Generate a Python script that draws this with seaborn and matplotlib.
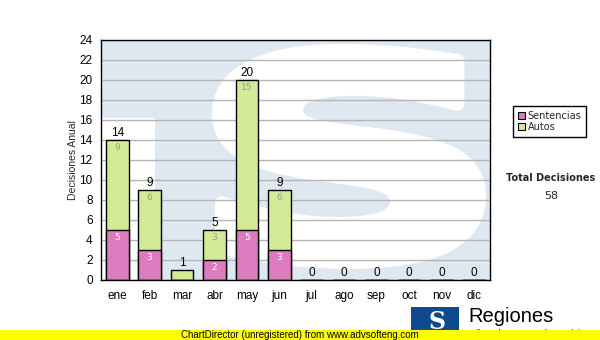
import matplotlib
matplotlib.use("Agg")
import matplotlib.pyplot as plt
import seaborn as sns
import pandas as pd
from matplotlib.patches import Rectangle, PathPatch
from matplotlib.textpath import TextPath
from matplotlib.font_manager import FontProperties
from matplotlib.transforms import Affine2D

months = ["ene", "feb", "mar", "abr", "may", "jun", "jul", "ago", "sep", "oct", "nov", "dic"]
sentencias = [5, 3, 0, 2, 5, 3, 0, 0, 0, 0, 0, 0]
autos = [9, 6, 1, 3, 15, 6, 0, 0, 0, 0, 0, 0]
totals = [s + a for s, a in zip(sentencias, autos)]
y_ticks = list(range(0, 25, 2))
series_names = ["Sentencias", "Autos"]
total_label = "Total Decisiones"
total_value = sum(totals)

PINK = "#dd7bbf"
GREEN = "#d3eb96"
WM = "#dfe8f1"

sns.set_theme(style="white")
plt.rcParams["font.family"] = ["Liberation Sans", "DejaVu Sans"]

W, H = 600, 340
fig = plt.figure(figsize=(6, 3.4), dpi=100)
ax = fig.add_axes([101 / W, 1 - 280 / H, 389 / W, 240 / H])

df = pd.DataFrame({"mes": months, "Sentencias": sentencias, "Autos": autos, "Total": totals})

# watermark (TS logo) in the plot background
ax.add_patch(Rectangle((0, 0), 1, 1, transform=ax.transAxes, facecolor=WM, edgecolor="none", zorder=0.1))
ax.add_patch(Rectangle((0, 0), 0.139, 0.675, transform=ax.transAxes, facecolor="white", edgecolor="none", zorder=0.2))
tp = TextPath((0, 0), "S", prop=FontProperties(family="DejaVu Sans", weight="bold"), size=100)
ext = tp.get_extents()
x0, x1, y0, y1 = 0.303, 0.972, 0.075, 0.955
tr = (Affine2D().translate(-ext.x0, -ext.y0)
      .scale((x1 - x0) / ext.width, (y1 - y0) / ext.height)
      .translate(x0, y0))
ax.add_patch(PathPatch(tr.transform_path(tp), transform=ax.transAxes, facecolor="white",
                       edgecolor="white", linewidth=10, joinstyle="round", zorder=0.3,
                       clip_on=True))

sns.barplot(data=df, x="mes", y="Total", color=GREEN, saturation=1, width=0.7,
            edgecolor="black", linewidth=1, ax=ax, zorder=2)
sns.barplot(data=df, x="mes", y="Sentencias", color=PINK, saturation=1, width=0.7,
            edgecolor="black", linewidth=1, ax=ax, zorder=2)

ax.set_xlim(-0.5, 11.5)
ax.set_ylim(0, 24)
ax.set_yticks(y_ticks)
ax.set_xticks(range(len(months)))
ax.set_xticklabels(months)
ax.yaxis.grid(True, color="#b5b5b5", linewidth=1, zorder=0.5)
ax.set_axisbelow(True)
for gl in ax.get_ygridlines():
    gl.set_zorder(0.5)
ax.set_xlabel("")
ax.set_ylabel("Decisiones Anual", fontsize=7.5, labelpad=1)
ax.tick_params(axis="both", which="both", direction="out", length=4, width=1,
               color="black", labelsize=8.5, pad=2, labelcolor="black")
ax.tick_params(axis="x", pad=3)
for sp in ax.spines.values():
    sp.set_visible(True)
    sp.set_color("black")
    sp.set_linewidth(1)

for i, (s, a, t) in enumerate(zip(sentencias, autos, totals)):
    ax.annotate(str(t), (i, t), xytext=(0, 0.5), textcoords="offset points",
                ha="center", va="bottom", fontsize=8.5, color="black", zorder=5)
    if s > 1:
        ax.annotate(str(s), (i, s), xytext=(0, -2.5), textcoords="offset points",
                    ha="center", va="top", fontsize=6.5, color="white",
                    family="DejaVu Sans", zorder=5)
    if a > 1:
        ax.annotate(str(a), (i, t), xytext=(0, -2.5), textcoords="offset points",
                    ha="center", va="top", fontsize=6.5, color="#9a9a9a",
                    family="DejaVu Sans", zorder=5)

# legend
handles = [Rectangle((0, 0), 1, 1, facecolor=PINK, edgecolor="black", linewidth=0.8),
           Rectangle((0, 0), 1, 1, facecolor=GREEN, edgecolor="black", linewidth=0.8)]
leg = fig.legend(handles, series_names, loc="upper left",
                 bbox_to_anchor=(508 / W, 1 - 101 / H), frameon=True, fancybox=False,
                 edgecolor="black", framealpha=1, handlelength=0.7,
                 handleheight=0.7, handletextpad=0.3, borderpad=0.5, labelspacing=0.1,
                 prop={"family": "DejaVu Sans", "size": 7})
leg.get_frame().set_linewidth(1)

fig.text(551 / W, 1 - 178 / H, total_label, ha="center", va="center", fontsize=7,
         fontweight="bold", family="DejaVu Sans")
fig.text(551 / W, 1 - 196 / H, str(total_value), ha="center", va="center", fontsize=8,
         family="DejaVu Sans")

# bottom logo
fig.patches.append(Rectangle((411 / W, 1 - 334 / H), 48 / W, 27 / H, transform=fig.transFigure,
                             facecolor="#0d4b8e", edgecolor="none", zorder=1))
fig.text(437 / W, 1 - 322 / H, "S", ha="center", va="center", fontsize=17, fontweight="bold",
         color="white", family="DejaVu Serif", zorder=2)
fig.text(468 / W, 1 - 316 / H, "Regiones", ha="left", va="center", fontsize=14.5,
         color="black", zorder=2)
fig.text(468 / W, 1 - 333 / H, "Tribunal Supremo de Justicia", ha="left", va="center",
         fontsize=6.5, color="black", zorder=2)

# unregistered band
fig.patches.append(Rectangle((0, 0), 1, 10 / H, transform=fig.transFigure,
                             facecolor="#ffff00", edgecolor="none", zorder=5))
fig.text(300 / W, 1 - 335 / H, "ChartDirector (unregistered) from www.advsofteng.com",
         ha="center", va="center", fontsize=7, color="black", zorder=6)

fig.savefig("out.png", dpi=100)
